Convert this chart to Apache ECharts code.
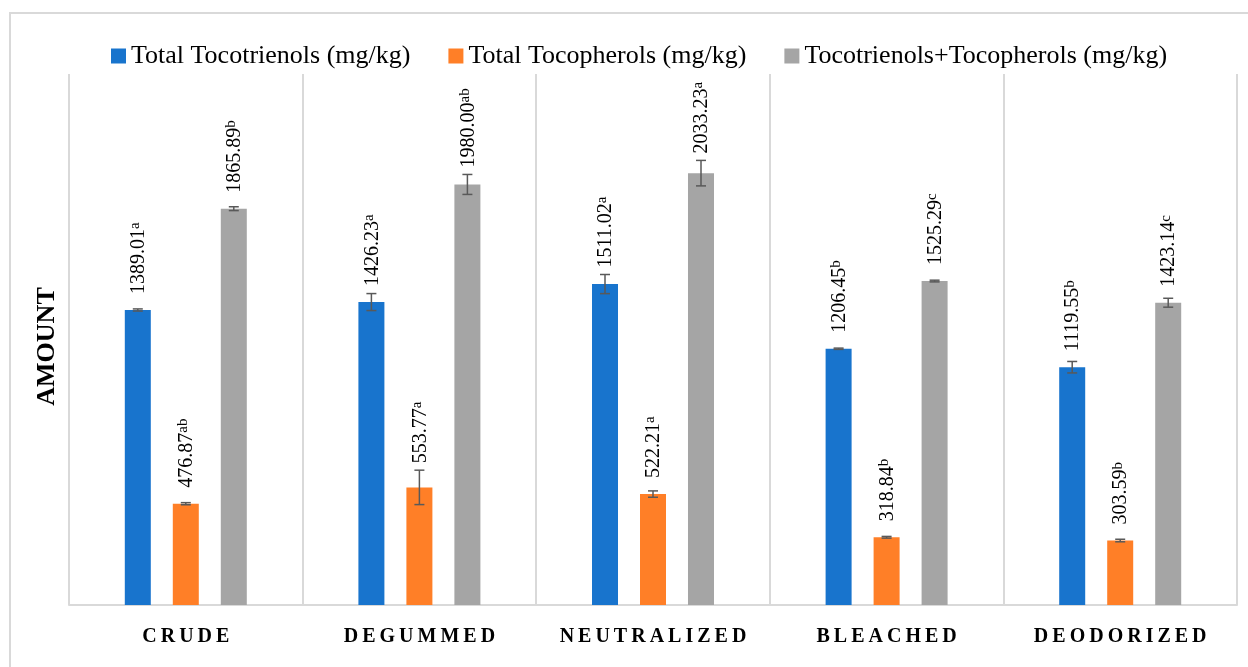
<!DOCTYPE html>
<html>
<head>
<meta charset="utf-8">
<title>Tocotrienols and tocopherols by refining stage</title>
<script src="https://cdn.jsdelivr.net/npm/echarts@6/dist/echarts.min.js"></script>
<style>
  html, body { margin: 0; padding: 0; background: #fff; }
  #chart { width: 1248px; height: 667px; }
</style>
</head>
<body>
<div id="chart"></div>
<script>
// data
var categories = ['CRUDE', 'DEGUMMED', 'NEUTRALIZED', 'BLEACHED', 'DEODORIZED'];
var seriesNames = ['Total Tocotrienols (mg/kg)', 'Total Tocopherols (mg/kg)', 'Tocotrienols+Tocopherols (mg/kg)'];

var tocotrienols = [1389.01, 1426.23, 1511.02, 1206.45, 1119.55];
var tocopherols = [476.87, 553.77, 522.21, 318.84, 303.59];
var totals = [1865.89, 1980.00, 2033.23, 1525.29, 1423.14];

// error bars (approx. +/- SD)
var tocotrienolsErr = [5, 40, 45, 3, 27];
var tocopherolsErr = [5, 81, 15, 4, 6];
var totalsErr = [9, 47, 60, 4, 21];

// significance letters
var tocotrienolsSig = ['a', 'a', 'a', 'b', 'b'];
var tocopherolsSig = ['ab', 'a', 'a', 'b', 'b'];
var totalsSig = ['b', 'ab', 'a', 'c', 'c'];

var colors = ['#1874CD', '#FF7F27', '#A5A5A5'];
var SERIF = '"Liberation Serif", "DejaVu Serif", serif';
var BAR_W = 26, BAR_GAP = 22;

var values = [tocotrienols, tocopherols, totals];
var errs = [tocotrienolsErr, tocopherolsErr, totalsErr];
var sigs = [tocotrienolsSig, tocopherolsSig, totalsSig];

function spaced(s) {
    return s.split('').join('\u2009');
}

// error bar + rotated value label, placed through the axis scale
function makeRender(slot) {
    return function (params, api) {
        var c = api.value(0), v = api.value(1), e = api.value(2);
        var p = api.coord([c, v]);
        var x = p[0] + (slot - 1) * (BAR_W + BAR_GAP);
        var yTop = api.coord([c, v + e])[1];
        var yBot = api.coord([c, v - e])[1];
        var cap = 5;
        var lineStyle = { stroke: '#595959', lineWidth: 1.5 };
        var labelY = Math.min(p[1] - 16, yTop - 7);
        var txt = '{v|' + v.toFixed(2) + '}{s|' + sigs[slot][params.dataIndex] + '}';
        return {
            type: 'group',
            children: [
                { type: 'line', shape: { x1: x, y1: yTop, x2: x, y2: yBot }, style: lineStyle },
                { type: 'line', shape: { x1: x - cap, y1: yTop, x2: x + cap, y2: yTop }, style: lineStyle },
                { type: 'line', shape: { x1: x - cap, y1: yBot, x2: x + cap, y2: yBot }, style: lineStyle },
                {
                    type: 'text',
                    x: x + 1,
                    y: labelY,
                    rotation: Math.PI / 2,
                    style: {
                        text: txt,
                        align: 'left',
                        verticalAlign: 'middle',
                        fill: '#000',
                        fontFamily: SERIF,
                        rich: {
                            v: { fontSize: 20, lineHeight: 22, fontFamily: SERIF, fill: '#000', verticalAlign: 'middle' },
                            s: { fontSize: 15, lineHeight: 22, fontFamily: SERIF, fill: '#000', verticalAlign: 'top' }
                        }
                    }
                }
            ]
        };
    };
}

var series = [];
seriesNames.forEach(function (name, i) {
    series.push({
        name: name,
        type: 'bar',
        barWidth: BAR_W,
        barGap: (BAR_GAP / BAR_W * 100).toFixed(1) + '%',
        itemStyle: { color: colors[i] },
        data: values[i],
        z: 2
    });
});
seriesNames.forEach(function (name, i) {
    series.push({
        name: 'err' + i,
        type: 'custom',
        renderItem: makeRender(i),
        data: values[i].map(function (v, j) { return [j, v, errs[i][j]]; }),
        z: 3,
        silent: true
    });
});

var myChart = echarts.init(document.getElementById('chart'));
myChart.setOption({
    animation: false,
    backgroundColor: '#fff',
    color: colors,
    graphic: [{
        type: 'rect',
        shape: { x: 10, y: 13, width: 1260, height: 680 },
        style: { fill: 'none', stroke: '#d9d9d9', lineWidth: 2 },
        silent: true
    }],
    legend: {
        data: seriesNames,
        left: 106,
        top: 38,
        icon: 'rect',
        itemWidth: 15,
        itemHeight: 15,
        itemGap: 38,
        textStyle: { fontFamily: SERIF, fontSize: 26, color: '#000' }
    },
    grid: { left: 69, right: 11, top: 74, bottom: 62 },
    xAxis: {
        type: 'category',
        data: categories,
        axisLine: { lineStyle: { color: '#d9d9d9', width: 2 } },
        axisTick: { show: false },
        splitLine: { show: true, interval: 0, lineStyle: { color: '#d9d9d9', width: 2 } },
        axisLabel: {
            interval: 0,
            margin: 22,
            fontFamily: SERIF,
            fontWeight: 'bold',
            fontSize: 20,
            color: '#000',
            formatter: spaced
        }
    },
    yAxis: {
        type: 'value',
        min: 0,
        max: 2500,
        name: 'AMOUNT',
        nameLocation: 'middle',
        nameGap: 9,
        nameTextStyle: { fontFamily: SERIF, fontWeight: 'bold', fontSize: 26, color: '#000', padding: [0, 14, 0, 0] },
        axisLine: { show: false },
        axisTick: { show: false },
        axisLabel: { show: false },
        splitLine: { show: false }
    },
    series: series
});
</script>
</body>
</html>
